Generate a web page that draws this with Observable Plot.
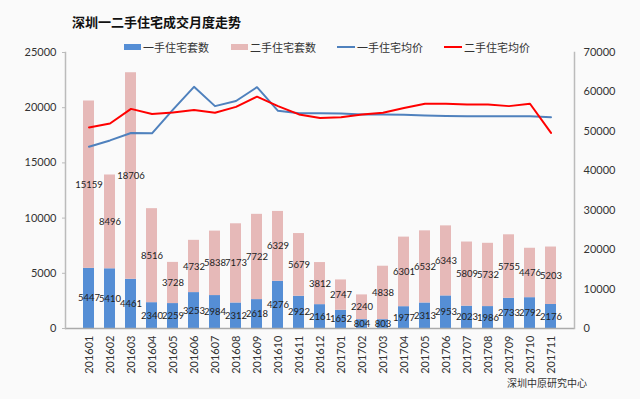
<!DOCTYPE html>
<html>
<head>
<meta charset="utf-8">
<script src="https://cdn.jsdelivr.net/npm/d3@7"></script>
<script src="https://cdn.jsdelivr.net/npm/@observablehq/plot@0.6"></script>
<style>
  html, body { margin: 0; padding: 0; background: #fafafa; }
  #wrap { position: relative; width: 640px; height: 399px; background: #fafafa; font-family: "Noto Sans CJK SC", sans-serif; }
  #title { position: absolute; left: 72px; top: 12px; font-size: 13px; font-weight: bold; color: #111; }
  #legend { position: absolute; left: 0; top: 39px; width: 640px; font-size: 11px; color: #333; }
  .li { position: absolute; top: 0; display: flex; align-items: center; height: 16px; }
  .sw { display: inline-block; margin-right: 2px; }
  #caption { position: absolute; left: 507px; top: 375px; font-size: 10px; color: #333; }
  svg { position: absolute; left: 0; top: 0; }
</style>
</head>
<body>
<div id="wrap">
  <div id="chart"></div>
  <div id="title">深圳一二手住宅成交月度走势</div>
  <div id="legend"></div>
  <div id="caption">深圳中原研究中心</div>
</div>
<script>
const months = ["201601","201602","201603","201604","201605","201606","201607","201608","201609","201610","201611","201612","201701","201702","201703","201704","201705","201706","201707","201708","201709","201710","201711"];
const newUnits = [5447,5410,4461,2340,2259,3253,2984,2312,2618,4276,2922,2161,1652,804,803,1977,2313,2953,2023,1986,2733,2792,2176];
const secondUnits = [15159,8496,18706,8516,3728,4732,5838,7173,7722,6329,5679,3812,2747,2240,4838,6301,6532,6343,5809,5732,5755,4476,5203];
const newPrice = [46100,47700,49600,49500,55500,61300,56400,57700,61200,55200,54600,54600,54500,54300,54300,54200,54000,53900,53800,53800,53800,53800,53600];
const secondPrice = [51000,52000,55700,54400,54800,55400,54700,56200,58800,56400,54300,53400,53600,54300,54700,55900,57000,57000,56800,56800,56400,57000,49600];
const leftTicks = [0,5000,10000,15000,20000,25000];
const rightTicks = [0,10000,20000,30000,40000,50000,60000,70000];
const seriesNames = ["一手住宅套数","二手住宅套数","一手住宅均价","二手住宅均价"];
const colors = ["#558ed5","#e6b9b8","#4f81bd","#ff0000"];

const k = 25000 / 70000;
const bars = [];
months.forEach((m, i) => {
  bars.push({month: m, type: seriesNames[0], value: newUnits[i]});
  bars.push({month: m, type: seriesNames[1], value: secondUnits[i]});
});
const linesNew = months.map((m, i) => ({month: m, v: newPrice[i] * k}));
const linesSecond = months.map((m, i) => ({month: m, v: secondPrice[i] * k}));

const font = "Lato, 'Noto Sans CJK SC', sans-serif";

const chart = Plot.plot({
  width: 640,
  height: 399,
  marginLeft: 65,
  marginRight: 66,
  marginTop: 52,
  marginBottom: 71,
  style: {background: "transparent", fontFamily: font, fontSize: "11px", color: "#333"},
  x: {domain: months, padding: 0.5, label: null},
  y: {domain: [0, 25000], label: null},
  color: {domain: seriesNames.slice(0, 2), range: colors.slice(0, 2)},
  marks: [
    Plot.barY(bars, Plot.stackY({x: "month", y: "value", fill: "type", order: null})),
    Plot.text(bars, Plot.stackY({x: "month", y: "value", z: "type", order: null, text: d => String(d.value), fontSize: 9.5, fill: "#222", fontFamily: font})),
    Plot.lineY(linesNew, {x: "month", y: "v", stroke: colors[2], strokeWidth: 2}),
    Plot.lineY(linesSecond, {x: "month", y: "v", stroke: colors[3], strokeWidth: 2}),
    Plot.ruleY([0], {stroke: "#aaa", strokeWidth: 1.5}),
    Plot.frame({anchor: "left", stroke: "#bbb", strokeWidth: 1.5}),
    Plot.frame({anchor: "right", stroke: "#bbb", strokeWidth: 1.5}),
    Plot.axisY(leftTicks, {anchor: "left", tickSize: 3, stroke: "#bbb", fill: "#333", tickPadding: 6, tickFormat: d => String(d), fontSize: 11, label: null}),
    Plot.axisY(rightTicks.map(v => v * k), {anchor: "right", tickSize: 0, tickPadding: 9, tickFormat: d => String(Math.round(d / k)), fontSize: 11, label: null}),
    Plot.axisX({tickSize: 0, tickRotate: -90, tickPadding: 7, fontSize: 11, label: null})
  ]
});
document.getElementById("chart").appendChild(chart);

// legend
const legend = document.getElementById("legend");
const legendX = [124, 231, 337, 444];
seriesNames.forEach((name, i) => {
  const item = document.createElement("div");
  item.className = "li";
  item.style.left = legendX[i] + "px";
  const sw = document.createElement("span");
  sw.className = "sw";
  if (i < 2) { sw.style.width = "17px"; sw.style.height = "6px"; }
  else { sw.style.width = "18px"; sw.style.height = "2px"; }
  sw.style.background = colors[i];
  item.appendChild(sw);
  const t = document.createElement("span");
  t.textContent = name;
  item.appendChild(t);
  legend.appendChild(item);
});
</script>
</body>
</html>
